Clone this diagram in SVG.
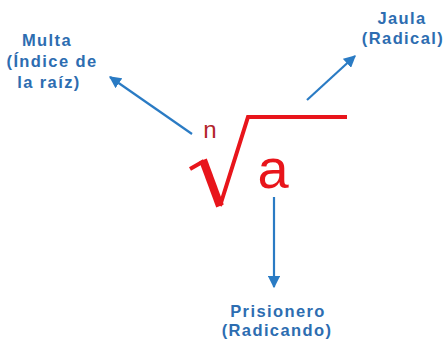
<svg xmlns="http://www.w3.org/2000/svg" width="445" height="347" viewBox="0 0 445 347">
<style>
.lbl{font-family:"Liberation Sans",Arial,sans-serif;font-weight:bold;font-size:16.5px;fill:#2d6db1;text-anchor:middle;letter-spacing:1.4px}
.arr{stroke:#2a7bc4;stroke-width:2.2;fill:none;marker-end:url(#ah)}
.red{stroke:#e8151b;fill:none;stroke-linecap:butt;stroke-linejoin:miter}
</style>
<defs>
<marker id="ah" viewBox="0 0 10 10" refX="9" refY="5" markerWidth="5.5" markerHeight="5.5" orient="auto" markerUnits="strokeWidth">
<path d="M0,0 L10,5 L0,10 Z" fill="#2a7bc4"/>
</marker>
</defs>
<rect width="445" height="347" fill="#ffffff"/>
<g id="connectors">
<line class="arr" x1="192" y1="134" x2="110" y2="77"/>
<line class="arr" x1="307" y1="100" x2="355" y2="56"/>
<line class="arr" x1="274" y1="197" x2="274" y2="287"/>
</g>
<g id="radical">
<path class="red" d="M190,169 L204,161" stroke-width="4"/>
<path class="red" d="M203,160 L220,206" stroke-width="8"/>
<path class="red" d="M220,206 L248,117 L347,117" stroke-width="4"/>
<text x="210" y="138" font-family="Liberation Sans, Arial, sans-serif" font-size="24" fill="#b3242b" text-anchor="middle">n</text>
<text x="273" y="188" font-family="Liberation Sans, Arial, sans-serif" font-size="56" fill="#e8151b" text-anchor="middle">a</text>
</g>
<g id="indice">
<text class="lbl" x="47" y="46">Multa</text>
<text class="lbl" x="52" y="67">(Índice de</text>
<text class="lbl" x="49" y="88">la raíz)</text>
</g>
<g id="jaula">
<text class="lbl" x="402" y="24">Jaula</text>
<text class="lbl" x="403" y="44">(Radical)</text>
</g>
<g id="prisionero">
<text class="lbl" x="278" y="317">Prisionero</text>
<text class="lbl" x="277" y="336">(Radicando)</text>
</g>
</svg>
